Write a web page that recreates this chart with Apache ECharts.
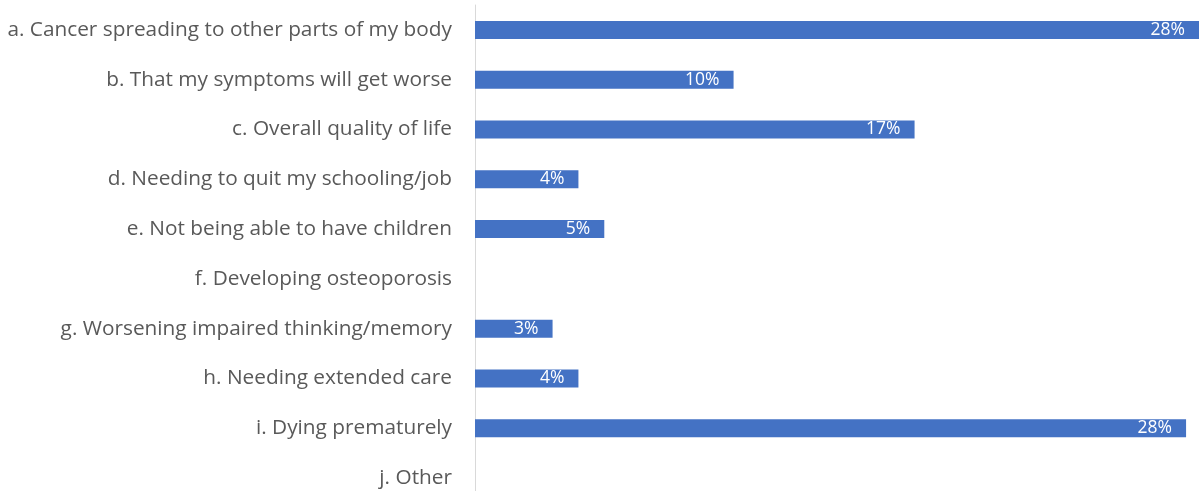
<!DOCTYPE html>
<html>
<head>
<meta charset="utf-8">
<script src="https://cdn.jsdelivr.net/npm/echarts@6/dist/echarts.min.js"></script>
<style>
  html, body { margin: 0; padding: 0; background: #ffffff; overflow: hidden; }
  /* the plot runs a little past the bottom of the visible window */
  #chart { width: 1199px; height: 510px; }
</style>
</head>
<body>
<div id="chart"></div>
<script>
// Concerns reported by respondents (percent of responses)
const categories = [
  'a. Cancer spreading to other parts of my body',
  'b. That my symptoms will get worse',
  'c. Overall quality of life',
  'd. Needing to quit my schooling/job',
  'e. Not being able to have children',
  'f. Developing osteoporosis',
  'g. Worsening impaired thinking/memory',
  'h. Needing extended care',
  'i. Dying prematurely',
  'j. Other'
];
const shares = [28.0, 10.0, 17.0, 4.0, 5.0, 0, 3.0, 4.0, 27.5, 0];
const axisMax = 28.0;

const chart = echarts.init(document.getElementById('chart'), null, { renderer: 'canvas' });
chart.setOption({
  animation: false,
  backgroundColor: '#ffffff',
  grid: { left: 475, right: 0, top: 5, height: 498, containLabel: false },
  xAxis: {
    type: 'value',
    min: 0,
    max: axisMax,
    show: false
  },
  yAxis: {
    type: 'category',
    data: categories,
    inverse: true,
    axisLine: { show: true, lineStyle: { color: '#d9d9d9', width: 1 } },
    axisTick: { show: false },
    axisLabel: {
      color: '#595959',
      fontFamily: 'Open Sans',
      fontSize: 20.8,
      margin: 23
    }
  },
  series: [{
    type: 'bar',
    data: shares,
    barWidth: 18,
    itemStyle: { color: '#4472c4' },
    label: {
      show: true,
      position: 'insideRight',
      distance: 14,
      color: '#ffffff',
      fontFamily: 'Open Sans',
      fontSize: 17.5,
      formatter: p => p.value > 0 ? Math.round(p.value) + '%' : ''
    }
  }]
});
</script>
</body>
</html>
